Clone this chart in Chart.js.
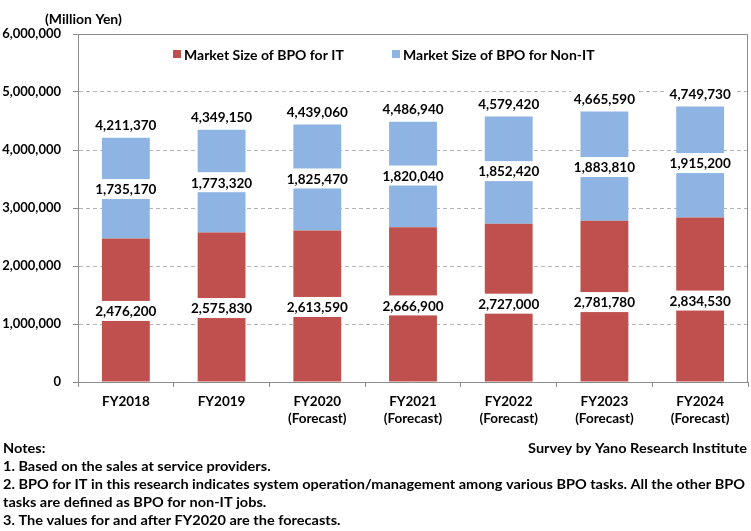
<!DOCTYPE html>
<html>
<head>
<meta charset="utf-8">
<script src="https://cdn.jsdelivr.net/npm/chart.js@4/dist/chart.umd.min.js"></script>
<style>
html,body{margin:0;padding:0;background:#fff;}
#wrap{position:relative;width:751px;height:531px;}
</style>
</head>
<body>
<div id="wrap"><canvas id="c" width="751" height="531"></canvas></div>
<script>
const categories = [['FY2018'],['FY2019'],['FY2020','(Forecast)'],['FY2021','(Forecast)'],['FY2022','(Forecast)'],['FY2023','(Forecast)'],['FY2024','(Forecast)']];
const itValues = [2476200, 2575830, 2613590, 2666900, 2727000, 2781780, 2834530];
const nonItValues = [1735170, 1773320, 1825470, 1820040, 1852420, 1883810, 1915200];
const totalValues = [4211370, 4349150, 4439060, 4486940, 4579420, 4665590, 4749730];
const seriesNames = ['Market Size of BPO for IT', 'Market Size of BPO for Non-IT'];
const yTitle = '(Million Yen)';
const sourceText = 'Survey by Yano Research Institute';
const notes = [
  'Notes:',
  '1. Based on the sales at service providers.',
  '2. BPO for IT in this research indicates system operation/management among various BPO tasks. All the other BPO',
  'tasks are defined as BPO for non-IT jobs.',
  '3. The values for and after FY2020 are the forecasts.'
];

const RED = '#C0504D', BLUE = '#8DB4E3';
const FONT = 'Lato, "DejaVu Sans", sans-serif';
const fmt = v => v.toLocaleString('en-US');

const extras = {
  id: 'extras',
  beforeDatasetsDraw(chart) {
    const {ctx, chartArea: a} = chart;
    ctx.save();
    ctx.strokeStyle = '#8c8c8c';
    ctx.lineWidth = 1;
    ctx.beginPath();
    ctx.moveTo(a.left, a.top + 0.5);
    ctx.lineTo(a.right - 0.5, a.top + 0.5);
    ctx.lineTo(a.right - 0.5, a.bottom);
    ctx.stroke();
    ctx.restore();
  },
  afterDatasetsDraw(chart) {
    const {ctx} = chart;
    ctx.save();
    ctx.font = 'bold 13.5px ' + FONT;
    ctx.textAlign = 'center';
    ctx.textBaseline = 'middle';
    const drawLabel = (txt, x, y) => {
      const w = ctx.measureText(txt).width + 6;
      ctx.fillStyle = '#fff';
      ctx.fillRect(x - w / 2, y - 10, w, 20);
      ctx.fillStyle = '#000';
      ctx.fillText(txt, x, y + 1);
    };
    const m0 = chart.getDatasetMeta(0), m1 = chart.getDatasetMeta(1);
    m0.data.forEach((b, i) => drawLabel(fmt(itValues[i]), b.x, (b.y + b.base) / 2 + 1));
    m1.data.forEach((b, i) => {
      drawLabel(fmt(nonItValues[i]), b.x, (b.y + b.base) / 2 + 1);
      drawLabel(fmt(totalValues[i]), b.x, b.y - 13);
    });
    ctx.restore();
  },
  afterDraw(chart) {
    const {ctx} = chart;
    ctx.save();
    ctx.fillStyle = '#000';
    ctx.textBaseline = 'middle';
    ctx.font = 'bold 14px ' + FONT;
    ctx.textAlign = 'left';
    ctx.fillText(yTitle, 45, 19);
    // legend
    const leg = [[173, seriesNames[0], RED], [392, seriesNames[1], BLUE]];
    leg.forEach(([x, t, c]) => {
      ctx.fillStyle = c;
      ctx.fillRect(x, 50, 8, 8);
      ctx.fillStyle = '#000';
      ctx.fillText(t, x + 11, 55);
    });
    // notes (stretched horizontally to match the wide original typeface)
    ctx.font = 'bold 12.5px ' + FONT;
    const sx = 742 / ctx.measureText(notes[2]).width;
    ctx.save();
    ctx.scale(sx, 1);
    notes.forEach((t, i) => ctx.fillText(t, 3 / sx, 449 + i * 18));
    ctx.textAlign = 'right';
    ctx.fillText(sourceText, 747 / sx, 449);
    ctx.restore();
    ctx.restore();
  }
};

new Chart(document.getElementById('c'), {
  type: 'bar',
  data: {
    labels: categories,
    datasets: [
      {label: seriesNames[0], data: itValues, backgroundColor: RED, stack: 's'},
      {label: seriesNames[1], data: nonItValues, backgroundColor: BLUE, stack: 's'}
    ]
  },
  options: {
    responsive: false,
    animation: false,
    devicePixelRatio: 1,
    layout: {padding: {top: 34, right: 3, left: 0, bottom: 0}},
    datasets: {bar: {categoryPercentage: 1, barPercentage: 0.5}},
    plugins: {legend: {display: false}, tooltip: {enabled: false}},
    scales: {
      x: {
        stacked: true,
        afterFit(s) { s.height = 149; },
        grid: {offset: true, drawOnChartArea: false, tickLength: 5, color: '#8c8c8c'},
        border: {color: '#8c8c8c'},
        ticks: {color: '#000', font: {family: FONT, weight: 'bold', size: 13.5}, padding: 7, maxRotation: 0}
      },
      y: {
        stacked: true,
        min: 0, max: 6000000,
        afterFit(s) { s.width = 78; },
        grid: {color: '#b5b5b5', tickLength: 5, tickColor: '#8c8c8c'},
        border: {color: '#8c8c8c', dash: [4, 3]},
        ticks: {stepSize: 1000000, color: '#000', font: {family: FONT, weight: 'bold', size: 13}, padding: 12, callback: v => fmt(v)}
      }
    }
  },
  plugins: [extras]
});
</script>
</body>
</html>
